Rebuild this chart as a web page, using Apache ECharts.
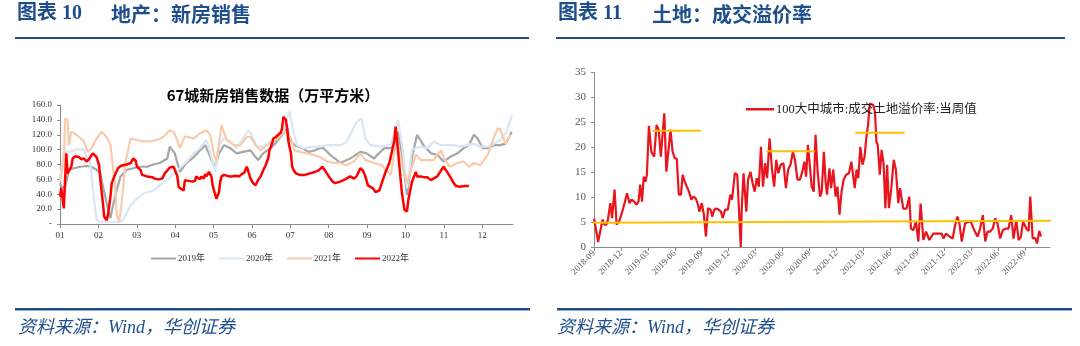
<!DOCTYPE html>
<html><head><meta charset="utf-8">
<script src="https://cdn.jsdelivr.net/npm/echarts@6/dist/echarts.min.js"></script>
<style>html,body{margin:0;padding:0;background:#fff}#c{width:1080px;height:346px}</style>
</head><body><div id="c"></div>
<script>
// ---------- Left chart: 67 cities new-home sales (day of year, 10k m2) ----------
const monthLabels = ['01','02','03','04','05','06','07','08','09','10','11','12'];
const seriesNames = ['2019年','2020年','2021年','2022年'];
const sales2019 = [[0,55],[1,50],[4,49],[5,50],[7,73],[11,75],[16,77],[21,78],[25,77],[29,73],[32,68],[33,59],[37,28],[40,8],[42,25],[45,46],[48,64],[53,73],[58,75],[63,77],[69,77],[74,80],[79,82],[85,88],[87,104],[91,95],[95,70],[100,82],[106,90],[111,99],[115,106],[118,95],[120,86],[123,77],[126,95],[130,106],[135,102],[140,95],[145,97],[151,99],[155,90],[157,86],[161,95],[167,102],[172,111],[177,122],[180,129],[182,113],[186,106],[192,102],[197,97],[202,99],[206,102],[209,102],[214,93],[218,88],[222,82],[230,88],[238,97],[243,95],[249,88],[251,92],[257,102],[262,102],[266,106],[268,124],[272,80],[275,39],[279,90],[283,120],[288,106],[294,95],[299,93],[304,84],[309,90],[315,95],[320,102],[324,106],[328,120],[331,115],[335,102],[339,102],[344,106],[349,106],[353,108],[356,117],[358,124]];
const sales2020 = [[0,60],[3,97],[8,97],[13,100],[19,100],[21,90],[24,83],[26,48],[29,5],[32,3],[40,3],[48,3],[50,5],[53,16],[56,25],[61,34],[66,41],[74,45],[79,52],[85,59],[90,68],[95,75],[101,85],[106,95],[111,102],[116,113],[120,90],[123,70],[126,106],[130,115],[135,111],[140,102],[145,115],[149,126],[152,120],[156,104],[161,104],[167,111],[172,115],[177,124],[180,142],[182,151],[185,124],[188,106],[193,102],[201,104],[206,104],[212,106],[217,106],[222,106],[227,110],[235,137],[239,142],[242,115],[246,106],[254,104],[262,106],[268,140],[271,106],[275,48],[279,100],[286,104],[291,102],[296,111],[302,106],[307,106],[312,106],[317,104],[328,108],[333,104],[339,104],[344,108],[349,113],[354,124],[358,146]];
const sales2021 = [[0,57],[3,84],[4,142],[6,140],[7,106],[9,124],[13,120],[19,111],[22,97],[25,102],[29,115],[33,124],[37,117],[40,106],[42,75],[44,44],[45,12],[47,3],[49,30],[52,84],[56,115],[61,113],[66,111],[71,111],[77,113],[82,117],[87,126],[90,124],[93,113],[95,102],[99,118],[106,115],[111,122],[116,126],[119,120],[122,93],[124,85],[128,133],[132,113],[138,106],[143,106],[148,117],[151,117],[155,106],[159,99],[164,106],[171,113],[175,120],[179,125],[183,115],[186,99],[190,97],[196,95],[201,93],[206,90],[212,84],[217,82],[222,82],[227,79],[233,84],[238,95],[242,86],[249,82],[255,79],[262,66],[267,115],[271,80],[275,55],[282,93],[286,86],[296,86],[302,99],[305,86],[309,77],[315,82],[320,84],[324,77],[328,82],[333,79],[339,93],[344,117],[347,129],[349,127],[353,108],[357,120]];
const sales2022 = [[0,37],[1,48],[2,46],[3,21],[4,59],[5,95],[6,68],[7,68],[9,77],[10,88],[12,91],[15,90],[17,87],[19,88],[21,84],[23,87],[24,90],[26,95],[27,93],[29,90],[30,84],[31,79],[32,59],[34,28],[35,10],[37,5],[38,12],[40,37],[41,55],[44,68],[46,75],[48,78],[50,79],[53,80],[56,82],[58,88],[60,85],[61,77],[64,72],[65,66],[69,64],[73,63],[75,61],[78,60],[81,61],[83,68],[85,72],[87,76],[90,77],[91,76],[93,64],[94,50],[96,47],[98,45],[99,59],[102,58],[105,57],[107,58],[108,64],[111,60],[112,64],[114,61],[115,67],[116,64],[118,70],[120,64],[121,52],[123,39],[124,34],[126,43],[127,57],[128,64],[130,66],[134,64],[136,64],[139,65],[142,64],[144,67],[146,69],[148,77],[149,72],[151,61],[153,55],[155,52],[157,59],[159,64],[161,72],[163,79],[165,88],[166,99],[168,108],[169,115],[171,117],[173,120],[175,123],[176,129],[177,144],[179,140],[180,129],[181,111],[183,95],[184,77],[185,73],[187,68],[190,66],[194,66],[198,68],[202,70],[205,72],[208,77],[210,72],[213,64],[216,57],[218,55],[222,57],[226,60],[230,64],[233,61],[235,64],[238,75],[240,72],[242,64],[244,52],[246,50],[248,48],[250,43],[253,45],[255,55],[258,70],[261,82],[263,97],[265,113],[266,131],[267,115],[269,77],[271,41],[273,19],[275,17],[276,32],[279,57],[282,70],[283,64],[286,64],[288,63],[291,63],[294,59],[296,61],[299,64],[302,72],[304,77],[306,72],[309,64],[312,55],[314,51],[317,50],[321,51],[324,51]];

// ---------- Right chart: land premium rate (months since 2018-09, %) ----------
const premiumName = '100大中城市:成交土地溢价率:当周值';
const landPremium = [[0,5.7],[0.19,3.8],[0.46,1.0],[0.77,3.8],[0.97,5.5],[1.16,4.5],[1.39,4.5],[1.55,5.5],[1.82,8.8],[2.01,5.8],[2.29,11.5],[2.52,4.5],[2.79,5.1],[3.10,6.8],[3.41,8.8],[3.68,10.8],[3.95,8.8],[4.18,9.5],[4.46,9.1],[4.73,8.5],[4.96,9.1],[5.15,12.5],[5.35,9.1],[5.54,14.1],[5.73,13.1],[5.89,14.5],[6.12,24.3],[6.39,19.1],[6.70,18.1],[6.97,24.5],[7.21,23.5],[7.44,18.1],[7.59,18.1],[7.83,26.8],[8.06,15.1],[8.25,15.1],[8.52,23.5],[8.76,19.1],[8.99,17.8],[9.22,17.7],[9.45,10.5],[9.69,10.5],[9.88,14.5],[10.11,13.1],[10.34,12.1],[10.58,11.1],[10.85,9.5],[11.08,10.1],[11.31,9.8],[11.54,8.8],[11.74,7.1],[12.01,8.8],[12.24,6.5],[12.47,2.1],[12.71,7.8],[12.98,7.5],[13.17,6.1],[13.40,7.5],[13.64,7.7],[13.87,7.5],[14.14,7.1],[14.33,5.8],[14.61,7.5],[14.91,7.5],[15.19,10.5],[15.38,9.5],[15.69,14.8],[15.96,14.5],[16.35,0],[16.46,7.8],[16.66,14.8],[16.97,7.1],[17.16,13.5],[17.43,15.1],[17.67,12.8],[17.90,11.1],[18.13,13.8],[18.36,12.1],[18.60,20.1],[18.83,12.1],[19.06,16.8],[19.29,13.8],[19.56,21.8],[19.83,15.5],[20.07,12.1],[20.30,17.5],[20.53,14.8],[20.80,16.5],[21.11,16.8],[21.38,11.8],[21.62,15.5],[21.89,16.5],[22.16,19.1],[22.39,17.5],[22.66,13.5],[22.93,13.5],[23.17,14.8],[23.44,17.1],[23.63,14.1],[23.83,20.5],[24.02,16.8],[24.25,12.1],[24.48,11.1],[24.68,22.5],[24.91,15.1],[25.18,10.1],[25.37,11.1],[25.61,19.1],[25.80,13.1],[25.96,10.5],[26.23,15.8],[26.42,11.8],[26.65,15.5],[26.92,10.1],[27.12,12.1],[27.35,6.5],[27.58,11.1],[27.81,13.5],[28.09,14.5],[28.40,14.8],[28.67,17.1],[28.86,16.8],[29.05,11.8],[29.25,15.5],[29.44,13.8],[29.67,20.1],[29.91,16.5],[30.14,18.1],[30.33,21.8],[30.53,24.5],[30.72,28.8],[30.91,29.1],[31.11,28.5],[31.30,27.1],[31.46,21.1],[31.61,20.5],[31.84,14.5],[32.04,19.5],[32.27,16.5],[32.46,7.8],[32.66,16.5],[32.85,7.8],[33.12,11.8],[33.39,17.5],[33.63,15.5],[33.90,8.8],[34.09,11.8],[34.45,7.7],[34.82,7.7],[35.12,10.1],[35.31,3.7],[35.57,3.4],[35.87,5.1],[36.13,1.1],[36.39,8.7],[36.69,1.4],[36.99,3.1],[37.36,1.4],[37.8,2.7],[38.36,2.7],[38.74,2.7],[38.92,1.7],[39.22,2.7],[39.59,2.1],[39.96,1.7],[40.23,4.4],[40.49,6.1],[40.71,4.7],[40.97,1.1],[41.34,4.7],[41.72,5.1],[41.98,5.1],[42.35,3.4],[42.72,2.1],[43.02,3.7],[43.32,6.4],[43.58,1.1],[43.84,3.1],[44.14,3.1],[44.43,3.7],[44.69,5.7],[44.96,4.7],[45.25,1.7],[45.55,3.4],[45.92,3.7],[46.18,3.7],[46.48,6.4],[46.74,1.7],[47.04,5.4],[47.3,1.4],[47.56,2.1],[47.79,5.1],[48.16,3.7],[48.42,3.2],[48.6,10.1],[48.87,1.7],[49.16,1.8],[49.35,0.7],[49.61,3.2],[49.8,2.1]];
// hand-drawn reference lines (annotation)
const refBase = [[-1.0,4.85],[51.7,5.25]];
const refPeak1 = [[6.5,23.3],[11.9,23.3]];
const refPeak2 = [[19.2,19.2],[24.6,19.2]];
const refPeak3 = [[29.1,22.9],[34.6,22.9]];

const SERIF = '"Liberation Serif","Noto Sans CJK SC",serif';
const NAVY = '#1f4e8c';
const MONTH_DAYS = 365/12;

const chart = echarts.init(document.getElementById('c'), null, {renderer:'canvas'});
const colors = ['#a6a6a6','#dae6f5','#f8cbad','#ff0000'];
const leftData = [sales2019, sales2020, sales2021, sales2022];

const leftSeries = leftData.map((d,i)=>({
  name: seriesNames[i], type:'line', xAxisIndex:0, yAxisIndex:0, data:d,
  showSymbol:false, symbol:'none', smooth:false,
  lineStyle:{color:colors[i], width: i===3?2.5:2.2}, itemStyle:{color:colors[i]}, z: 2+i
}));
const refStyle = {color:'#ffc000', width:2};
const refSeries = [refBase, refPeak1, refPeak2, refPeak3].map((d,i)=>({
  name:'ref'+i, type:'line', xAxisIndex:1, yAxisIndex:1, data:d, symbol:'none',
  lineStyle:refStyle, clip:false, z: 5, silent:true
}));

const option = {
  animation:false,
  textStyle:{fontFamily:SERIF},
  title:[{text:'67城新房销售数据（万平方米）', left:268, top:83, textAlign:'center',
    textStyle:{fontSize:15, fontWeight:'bold', color:'#000', fontFamily:'"Noto Sans CJK SC",sans-serif'}}],
  legend:[
    {data:seriesNames, left:146, top:249, itemWidth:25, itemHeight:2, itemGap:14, icon:'rect',
     textStyle:{fontSize:9, color:'#333', fontFamily:SERIF, padding:[0,0,0,-3]}},
    {data:[premiumName], left:741, top:98, itemWidth:28, itemHeight:2.5, icon:'rect',
     textStyle:{fontSize:12.5, color:'#222', fontFamily:SERIF, padding:[0,0,0,-3]}}
  ],
  grid:[
    {left:60, top:105, width:453, height:119, containLabel:false},
    {left:594, top:72.5, width:456, height:174.5, containLabel:false}
  ],
  xAxis:[
    {type:'value', gridIndex:0, min:0, max:359, interval:MONTH_DAYS,
     axisLine:{lineStyle:{color:'#8c8c8c', width:1}}, axisTick:{show:true, length:4, lineStyle:{color:'#8c8c8c'}},
     splitLine:{show:false},
     axisLabel:{fontSize:9, color:'#333', margin:7, showMaxLabel:false,
       formatter:v=>monthLabels[Math.round(v/MONTH_DAYS)] || ''}},
    {type:'value', gridIndex:1, min:0, max:50.8, interval:3,
     axisLine:{lineStyle:{color:'#8c8c8c', width:1}}, axisTick:{show:true, length:4, lineStyle:{color:'#8c8c8c'}},
     splitLine:{show:false},
     axisLabel:{fontSize:9, color:'#595959', rotate:45, margin:5, showMaxLabel:false,
       formatter:v=>{const t=Math.round(v)+8; const y=2018+Math.floor(t/12); const m=t%12+1; return y+'-'+(m<10?'0':'')+m;}}}
  ],
  yAxis:[
    {type:'value', gridIndex:0, min:0, max:160, interval:20,
     axisLine:{show:true, lineStyle:{color:'#8c8c8c'}}, axisTick:{show:true, length:3, lineStyle:{color:'#8c8c8c'}},
     splitLine:{show:false},
     axisLabel:{fontSize:9, color:'#333', margin:8, formatter:v=>v===0?'-':v.toFixed(1)}},
    {type:'value', gridIndex:1, min:0, max:35, interval:5,
     axisLine:{show:true, lineStyle:{color:'#8c8c8c'}}, axisTick:{show:true, length:3, lineStyle:{color:'#8c8c8c'}},
     splitLine:{show:false},
     axisLabel:{fontSize:11, color:'#595959', margin:8}}
  ],
  series:[...leftSeries,
    {name:premiumName, type:'line', xAxisIndex:1, yAxisIndex:1, data:landPremium, symbol:'none',
     lineStyle:{color:'#e8141e', width:2.2}, itemStyle:{color:'#e8141e'}, z:3},
    ...refSeries],
  graphic:[
    {type:'text', left:17, top:4, style:{text:'图表 10', font:'bold 20px '+SERIF, fill:NAVY}},
    {type:'text', left:111, top:4, style:{text:'地产：新房销售', font:'bold 20px "Noto Sans CJK SC",serif', fill:NAVY}},
    {type:'rect', shape:{x:15, y:37, width:514, height:2}, style:{fill:NAVY}},
    {type:'text', left:558, top:4, style:{text:'图表 11', font:'bold 20px '+SERIF, fill:NAVY}},
    {type:'text', left:652, top:4, style:{text:'土地：成交溢价率', font:'bold 20px "Noto Sans CJK SC",serif', fill:NAVY}},
    {type:'rect', shape:{x:556, y:37, width:509, height:2}, style:{fill:NAVY}},
    {type:'rect', shape:{x:15, y:308, width:515, height:2.5}, style:{fill:NAVY}},
    {type:'rect', shape:{x:557, y:308, width:515, height:2.5}, style:{fill:NAVY}},
    {type:'text', left:18, top:319, style:{text:'资料来源：Wind，华创证券', font:'italic 18px '+SERIF, fill:NAVY}},
    {type:'text', left:557, top:319, style:{text:'资料来源：Wind，华创证券', font:'italic 18px '+SERIF, fill:NAVY}}
  ]
};
chart.setOption(option);
</script></body></html>
